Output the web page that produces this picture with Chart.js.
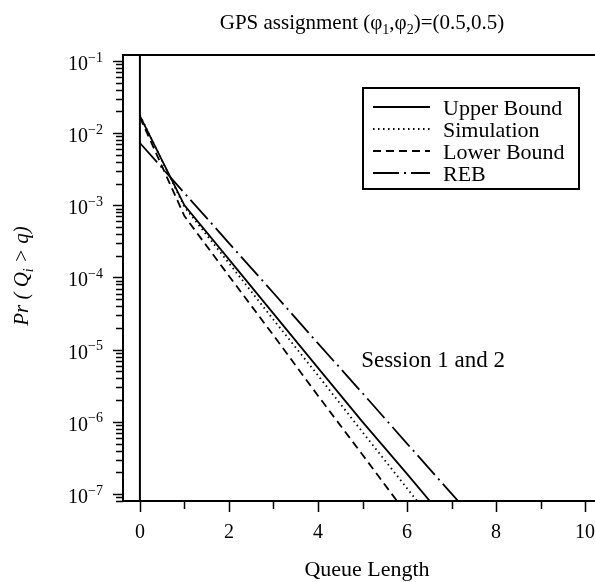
<!DOCTYPE html>
<html>
<head>
<meta charset="utf-8">
<script src="https://cdn.jsdelivr.net/npm/chart.js@4/dist/chart.umd.min.js"></script>
<style>
  html, body { margin: 0; padding: 0; background: #fff; }
  canvas { display: block; }
</style>
</head>
<body>
<canvas id="myChart" width="595" height="582"></canvas>
<script>
// queue length q and Pr(Q_i > q)
const queueLength = [0, 1, 2, 3, 4, 5, 6, 7, 8];
const upperBound = [1.74e-2, 1.0e-3, 1.78e-4, 3.16e-5, 5.6e-6, 1.0e-6, 1.9e-7, 3.5e-8, 6.3e-9];
const simulation = [1.78e-2, 9.5e-4, 1.58e-4, 2.6e-5, 4.4e-6, 7.2e-7, 1.2e-7, 2.0e-8, 3.3e-9];
const lowerBound = [1.66e-2, 7.1e-4, 1.05e-4, 1.58e-5, 2.3e-6, 3.5e-7, 5.2e-8, 7.9e-9, 1.2e-9];
const reb = [7.3e-3, 1.48e-3, 3.0e-4, 6.1e-5, 1.22e-5, 2.5e-6, 5.0e-7, 1.01e-7, 2.05e-8];

const seriesNames = ['Upper Bound', 'Simulation', 'Lower Bound', 'REB'];
const xTicks = [0, 1, 2, 3, 4, 5, 6, 7, 8, 9, 10];
const xTickLabels = ['0', '', '2', '', '4', '', '6', '', '8', '', '10'];
const yExponents = [-1, -2, -3, -4, -5, -6, -7];

const serif = '"Liberation Serif", "Times New Roman", serif';

function pts(ys) {
    return queueLength.map((q, i) => ({ x: q, y: ys[i] }));
}

// text with optional sub/superscript pieces: [text, 'n'|'sub'|'sup']
function drawRich(ctx, parts, x, y, size, italic, align, small) {
    const style = italic ? 'italic ' : '';
    const smallSize = Math.round(size * (small || 0.68));
    let total = 0;
    parts.forEach(p => {
        ctx.font = style + (p[1] === 'n' ? size : smallSize) + 'px ' + serif;
        total += ctx.measureText(p[0]).width;
    });
    let cx = align === 'center' ? x - total / 2 : (align === 'right' ? x - total : x);
    ctx.textAlign = 'left';
    ctx.textBaseline = 'alphabetic';
    parts.forEach(p => {
        ctx.font = style + (p[1] === 'n' ? size : smallSize) + 'px ' + serif;
        let dy = 0;
        if (p[1] === 'sub') dy = size * 0.22;
        if (p[1] === 'sup') dy = -size * 0.42;
        ctx.fillText(p[0], cx, y + dy);
        cx += ctx.measureText(p[0]).width;
    });
}

const decorPlugin = {
    id: 'decor',
    afterDatasetsDraw(chart) {
        const ctx = chart.ctx;
        const area = chart.chartArea;
        const xs = chart.scales.x;
        const ys = chart.scales.y;
        ctx.save();
        ctx.strokeStyle = '#000';
        ctx.fillStyle = '#000';
        ctx.setLineDash([]);

        // frame: left, top, bottom
        ctx.lineWidth = 2;
        ctx.beginPath();
        ctx.moveTo(area.left, area.top);
        ctx.lineTo(area.left, area.bottom);
        ctx.moveTo(area.left - 1, area.top);
        ctx.lineTo(chart.width, area.top);
        ctx.moveTo(area.left - 1, area.bottom);
        ctx.lineTo(chart.width, area.bottom);
        ctx.stroke();

        // vertical line at q = 0
        const x0 = xs.getPixelForValue(0);
        ctx.beginPath();
        ctx.moveTo(x0, area.top);
        ctx.lineTo(x0, area.bottom);
        ctx.stroke();

        // y ticks (decades + minor)
        ctx.lineWidth = 1.5;
        ctx.beginPath();
        for (let e = -8; e <= 0; e++) {
            for (let m = 1; m <= 9; m++) {
                const v = m * Math.pow(10, e);
                if (v < ys.min || v > ys.max) continue;
                const py = Math.round(ys.getPixelForValue(v)) + 0.5;
                const len = m === 1 ? 10 : 7;
                ctx.moveTo(area.left - len, py);
                ctx.lineTo(area.left, py);
            }
        }
        // x ticks
        xTicks.forEach((t, i) => {
            const px = Math.round(xs.getPixelForValue(t)) + 0.5;
            const len = xTickLabels[i] ? 11 : 8;
            ctx.moveTo(px, area.bottom);
            ctx.lineTo(px, area.bottom + len);
        });
        ctx.stroke();

        // y tick labels 10^e
        yExponents.forEach(e => {
            const py = ys.getPixelForValue(Math.pow(10, e));
            drawRich(ctx, [['10', 'n'], ['\u2212' + Math.abs(e), 'sup']], 103, py + 9, 20, false, 'right', 0.72);
        });
        // x tick labels
        ctx.font = '20px ' + serif;
        ctx.textAlign = 'center';
        ctx.textBaseline = 'alphabetic';
        xTicks.forEach((t, i) => {
            if (!xTickLabels[i]) return;
            ctx.fillText(xTickLabels[i], xs.getPixelForValue(t), 538);
        });

        // titles
        drawRich(ctx, [['GPS assignment (\u03C6', 'n'], ['1', 'sub'], [',\u03C6', 'n'], ['2', 'sub'], [')=(0.5,0.5)', 'n']], 362, 29, 21, false, 'center');
        drawRich(ctx, [['Queue Length', 'n']], 367, 576, 22, false, 'center');
        drawRich(ctx, [['Session 1 and 2', 'n']], 433, 367, 23, false, 'center');

        ctx.save();
        ctx.translate(28, 276);
        ctx.rotate(-Math.PI / 2);
        drawRich(ctx, [['Pr ( Q', 'n'], ['i', 'sub'], [' > q)', 'n']], 0, 0, 21, true, 'center');
        ctx.restore();

        // legend box
        const lx = 363, ly = 88, lw = 216, lh = 101;
        ctx.fillStyle = '#fff';
        ctx.fillRect(lx, ly, lw, lh);
        ctx.fillStyle = '#000';
        ctx.lineWidth = 2;
        ctx.strokeRect(lx, ly, lw, lh);
        chart.data.datasets.forEach((ds, i) => {
            const ry = 107 + i * 22;
            ctx.lineWidth = 2;
            ctx.setLineDash(ds.borderDash || []);
            ctx.beginPath();
            ctx.moveTo(373, ry);
            ctx.lineTo(430, ry);
            ctx.stroke();
            ctx.setLineDash([]);
            drawRich(ctx, [[ds.label, 'n']], 443, ry + 7.5, 22, false, 'left');
        });
        ctx.restore();
    }
};

const ctx = document.getElementById('myChart').getContext('2d');
const myChart = new Chart(ctx, {
    type: 'line',
    data: {
        datasets: [
            { label: seriesNames[0], data: pts(upperBound), borderDash: [] },
            { label: seriesNames[1], data: pts(simulation), borderDash: [1.5, 3.5] },
            { label: seriesNames[2], data: pts(lowerBound), borderDash: [8, 5] },
            { label: seriesNames[3], data: pts(reb), borderDash: [26, 5, 2, 5] }
        ].map(ds => Object.assign(ds, {
            borderColor: '#000',
            borderWidth: 1.8,
            pointRadius: 0,
            tension: 0,
            fill: false
        }))
    },
    options: {
        responsive: false,
        animation: false,
        layout: { padding: { left: 123, top: 55, right: 1, bottom: 81 } },
        plugins: { legend: { display: false }, tooltip: { enabled: false } },
        scales: {
            x: { type: 'linear', min: -0.38, max: 10.2, display: false },
            y: { type: 'logarithmic', min: 8.0e-8, max: 0.121, display: false }
        }
    },
    plugins: [decorPlugin]
});
</script>
</body>
</html>
